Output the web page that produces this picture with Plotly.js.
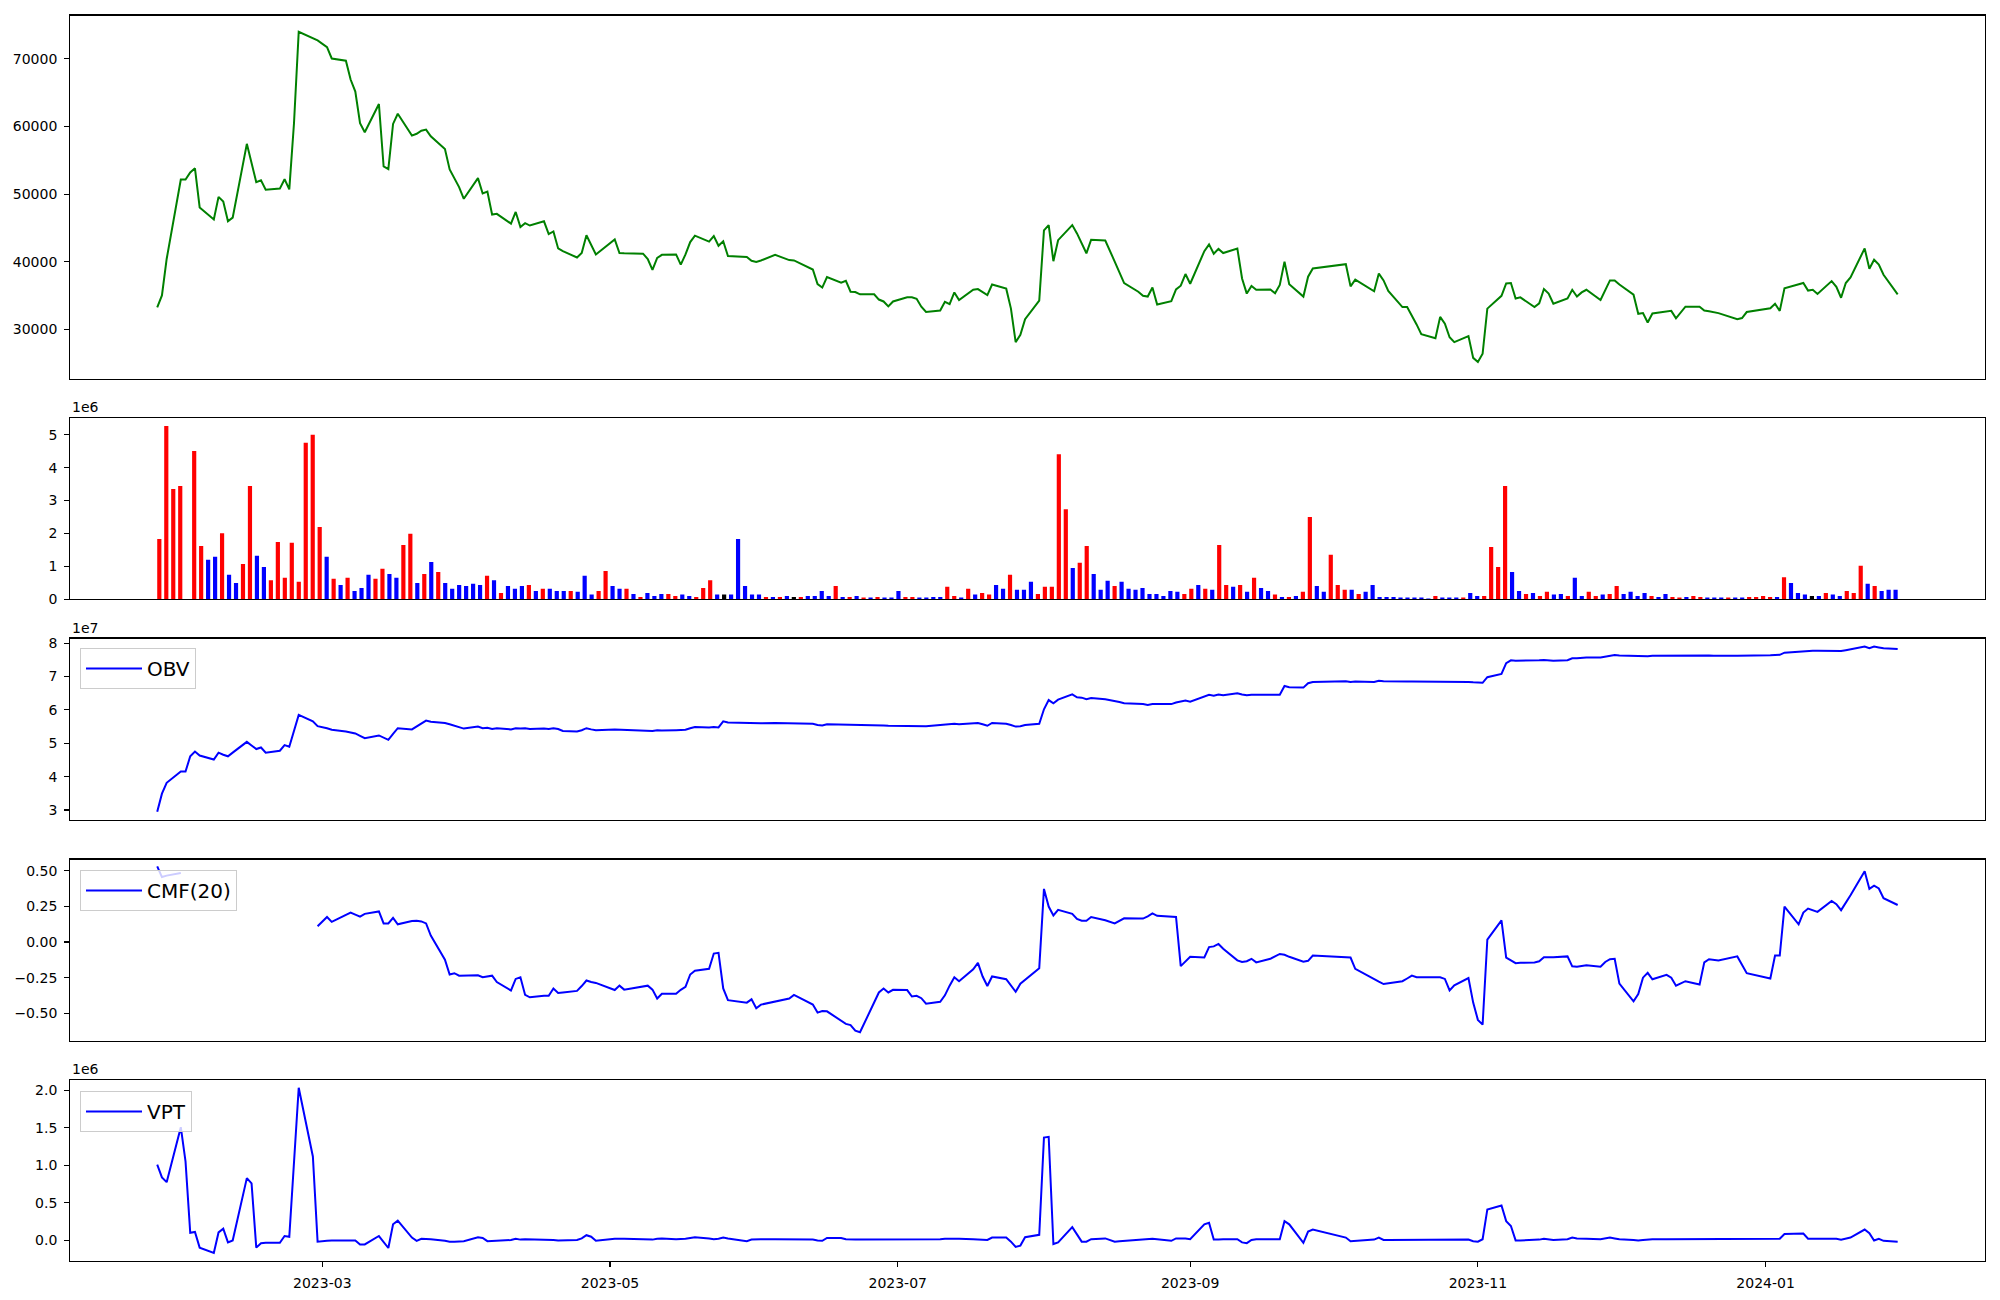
<!DOCTYPE html>
<html><head><meta charset="utf-8">
<script src="https://cdn.plot.ly/plotly-3.0.1.min.js"></script>
<style>html,body{margin:0;padding:0;background:#fff}#chart{width:2000px;height:1300px}</style>
</head><body><div id="chart"></div>
<script>
// ---------- data ----------
const firstSession = '2023-01-25';
const lastSession = '2024-01-29';
const krxHolidays = ['2023-03-01','2023-05-01','2023-05-05','2023-05-29','2023-06-06','2023-08-15',
  '2023-09-28','2023-09-29','2023-10-02','2023-10-03','2023-10-09','2023-12-25','2023-12-29','2024-01-01'];

const closePrice = [
33260,35040,40420,52140,52140,53200,53800,48030,46250,49590,
48920,45980,46530,57420,54580,51750,52030,50640,50810,52200,
50700,60500,73960,72960,72690,71690,70020,69690,66910,65130,
60470,59140,63300,54080,53690,60360,61860,58640,58910,59360,
59530,58530,56640,53640,52250,51030,49310,52360,50090,50360,
46980,47090,45640,47360,45140,45700,45360,45980,44090,44480,
41980,41590,40640,41310,43920,42530,41090,43310,41310,41260,
41200,40420,38810,40590,41030,41090,39590,41090,42920,43870,
42980,43810,42370,43030,40870,40700,40150,39980,40200,41030,
40480,40260,40200,39200,38870,36700,36200,37760,36920,37200,
35590,35540,35200,35200,34430,34150,33430,34150,34760,34760,
34540,33370,32590,32820,34090,33760,35480,34370,35870,35980,
35480,35090,36650,36040,33090,28150,29210,31540,34260,44640,
45420,40090,43200,45420,44200,42810,41260,43260,43150,40040,
38370,36870,35590,34980,34870,36200,33700,34200,35930,36480,
38200,36760,41580,42580,41190,41910,41300,41970,37540,35310,
36430,35870,35930,35370,36590,40030,36700,34870,37810,39030,
39650,36370,37370,35650,38260,37260,35700,33320,33320,32090,
30760,29320,28710,31870,30870,28870,28150,29040,25820,25210,
26430,33090,34980,36810,36870,34590,34760,33320,33870,35980,
35310,33820,34590,35870,34870,35480,35870,34370,35810,37260,
37260,36650,35150,32320,32430,31040,32370,32590,32760,31650,
32540,33370,33370,32820,32700,32590,32430,31540,31700,32590,
33150,33820,32760,36090,36650,36870,35760,35870,35260,37150,
36310,34700,36870,37700,41980,38980,40310,39590,38090,35200];

const volumeMillions = [
1.83,5.27,3.35,3.44,0,4.51,1.62,1.20,1.29,2.01,
0.74,0.49,1.07,3.44,1.32,0.98,0.58,1.74,0.65,1.72,
0.53,4.76,5.00,2.20,1.29,0.62,0.43,0.65,0.25,0.34,
0.74,0.62,0.93,0.77,0.65,1.65,1.99,0.49,0.77,1.13,
0.83,0.49,0.32,0.43,0.40,0.47,0.43,0.71,0.58,0.19,
0.40,0.32,0.40,0.43,0.25,0.32,0.32,0.25,0.25,0.25,
0.23,0.71,0.14,0.25,0.86,0.40,0.32,0.32,0.16,0.07,
0.19,0.10,0.16,0.16,0.10,0.14,0.10,0.07,0.34,0.58,
0.14,0.14,0.14,1.83,0.40,0.14,0.14,0.07,0.07,0.07,
0.10,0.07,0.07,0.10,0.10,0.25,0.10,0.40,0.07,0.07,
0.10,0.05,0.05,0.07,0.05,0.05,0.25,0.07,0.07,0.05,
0.05,0.07,0.07,0.38,0.10,0.05,0.32,0.14,0.19,0.14,
0.43,0.32,0.74,0.29,0.29,0.53,0.16,0.38,0.38,4.41,
2.74,0.95,1.11,1.62,0.77,0.29,0.56,0.40,0.53,0.32,
0.29,0.34,0.16,0.16,0.10,0.25,0.23,0.16,0.32,0.43,
0.32,0.29,1.65,0.43,0.38,0.43,0.23,0.65,0.34,0.25,
0.14,0.07,0.07,0.10,0.23,2.50,0.40,0.23,1.35,0.43,
0.29,0.29,0.16,0.23,0.43,0.07,0.07,0.07,0.05,0.05,
0.05,0.05,0.02,0.10,0.05,0.05,0.05,0.05,0.19,0.10,
0.10,1.59,0.98,3.44,0.83,0.25,0.16,0.19,0.10,0.23,
0.14,0.16,0.10,0.65,0.10,0.23,0.10,0.14,0.16,0.40,
0.16,0.23,0.10,0.19,0.10,0.07,0.16,0.07,0.05,0.07,
0.10,0.07,0.05,0.05,0.05,0.05,0.05,0.05,0.07,0.07,
0.10,0.07,0.07,0.67,0.49,0.19,0.14,0.10,0.10,0.19,
0.14,0.10,0.25,0.19,1.02,0.47,0.40,0.25,0.29,0.29];

// u = close above open, d = close below open, n = unchanged
const candleDirection = (
'uuuunuuddu'+'dduudduuuu'+'uuuudududd'+'duudduudud'+'uddddddudu'+
'dddududddu'+'ddduuddudu'+'ddduudduuu'+'dndddddudu'+'dnuddddudu'+
'dududdduud'+'ddduududuu'+'dduddduuuu'+'uduudddudd'+'ddddddduud'+
'uduudududd'+'ududuudduu'+'ududdddddd'+'dddudddudd'+'uuuudduduu'+
'ddudduuduu'+'ddddudduud'+'uudddudduu'+'uududddndu'+'dduuududdd').split('');

const obvTenMillions = [
2.947,3.489,3.814,4.151,4.151,4.609,4.753,4.633,4.512,4.717,
4.657,4.609,4.720,5.042,4.934,4.826,4.874,4.717,4.777,4.946,
4.898,5.380,5.849,5.657,5.512,5.452,5.404,5.355,5.331,5.295,
5.223,5.151,5.235,5.163,5.103,5.283,5.452,5.416,5.500,5.596,
5.681,5.645,5.608,5.572,5.524,5.476,5.440,5.500,5.452,5.464,
5.428,5.452,5.416,5.452,5.440,5.452,5.428,5.440,5.428,5.452,
5.428,5.368,5.355,5.392,5.452,5.416,5.392,5.416,5.410,5.404,
5.392,5.386,5.368,5.392,5.380,5.392,5.392,5.404,5.452,5.488,
5.476,5.488,5.476,5.657,5.620,5.596,5.596,5.596,5.600,5.608,
5.600,5.596,5.596,5.584,5.584,5.548,5.536,5.572,5.566,5.566,
5.566,5.560,5.560,5.560,5.548,5.536,5.524,5.524,5.524,5.524,
5.520,5.512,5.512,5.548,5.560,5.560,5.584,5.572,5.596,5.608,
5.572,5.524,5.608,5.584,5.548,5.500,5.512,5.548,5.584,6.018,
6.295,6.199,6.307,6.464,6.379,6.367,6.319,6.355,6.319,6.271,
6.235,6.199,6.187,6.174,6.150,6.174,6.174,6.174,6.223,6.259,
6.283,6.247,6.415,6.452,6.428,6.464,6.440,6.500,6.464,6.440,
6.452,6.452,6.452,6.452,6.452,6.716,6.680,6.668,6.801,6.837,
6.861,6.837,6.849,6.837,6.873,6.861,6.855,6.849,6.849,6.849,
6.849,6.849,6.849,6.849,6.849,6.840,6.837,6.837,6.825,6.813,
6.813,6.981,7.078,7.403,7.487,7.475,7.475,7.475,7.487,7.499,
7.487,7.475,7.487,7.548,7.548,7.560,7.572,7.572,7.596,7.632,
7.644,7.632,7.620,7.608,7.608,7.608,7.620,7.626,7.626,7.632,
7.620,7.632,7.644,7.640,7.632,7.626,7.620,7.620,7.620,7.626,
7.638,7.644,7.650,7.716,7.752,7.764,7.764,7.770,7.776,7.776,
7.770,7.764,7.788,7.812,7.897,7.849,7.897,7.873,7.849,7.824];

const cmf20 = [
0.530,0.455,0.465,0.484,null,null,null,null,null,null,
null,null,null,null,null,null,null,null,null,null,
null,null,null,null,0.110,0.175,0.141,0.192,0.206,0.192,
0.178,0.197,0.214,0.130,0.130,0.169,0.124,0.147,0.149,0.144,
0.130,0.045,-0.124,-0.228,-0.219,-0.236,-0.236,-0.233,-0.247,-0.242,
-0.236,-0.281,-0.340,-0.259,-0.247,-0.371,-0.388,-0.377,-0.377,-0.326,
-0.357,-0.354,-0.343,-0.309,-0.270,-0.281,-0.287,-0.337,-0.306,-0.334,
-0.315,-0.306,-0.334,-0.396,-0.363,-0.363,-0.335,-0.315,-0.228,-0.202,
-0.188,-0.081,-0.076,-0.326,-0.408,-0.425,-0.402,-0.464,-0.439,-0.416,
-0.405,-0.396,-0.371,-0.419,-0.439,-0.495,-0.484,-0.486,-0.551,-0.574,
-0.582,-0.622,-0.633,-0.416,-0.354,-0.326,-0.354,-0.335,-0.337,-0.382,
-0.377,-0.394,-0.433,-0.419,-0.374,-0.306,-0.247,-0.275,-0.191,-0.146,
-0.242,-0.309,-0.242,-0.261,-0.306,-0.349,-0.292,-0.264,-0.185,0.372,
0.248,0.186,0.225,0.197,0.161,0.149,0.149,0.175,0.152,0.130,
0.149,0.166,0.164,0.164,0.180,0.200,0.183,0.180,0.175,-0.169,
-0.138,-0.104,-0.109,-0.036,-0.031,-0.014,-0.048,-0.129,-0.140,-0.135,
-0.118,-0.143,-0.118,-0.101,-0.084,-0.090,-0.104,-0.138,-0.132,-0.095,
-0.107,-0.109,-0.188,-0.264,-0.278,-0.295,-0.289,-0.275,-0.256,-0.236,
-0.247,-0.247,-0.247,-0.247,-0.259,-0.340,-0.304,-0.253,-0.425,-0.546,
-0.579,0.017,0.152,-0.109,-0.129,-0.149,-0.146,-0.143,-0.135,-0.107,
-0.107,-0.107,-0.101,-0.171,-0.174,-0.166,-0.163,-0.174,-0.140,-0.121,
-0.118,-0.292,-0.416,-0.365,-0.250,-0.216,-0.261,-0.230,-0.250,-0.306,
-0.292,-0.275,-0.298,-0.143,-0.121,-0.124,-0.129,-0.101,-0.163,-0.219,
-0.256,-0.095,-0.095,0.248,0.124,0.206,0.234,0.223,0.211,0.287,
0.265,0.223,0.273,0.327,0.496,0.372,0.394,0.375,0.307,0.259];

const vptMillions = [
1.010,0.839,0.775,1.509,1.053,0.100,0.111,-0.098,-0.168,0.105,
0.154,-0.028,-0.002,0.829,0.759,-0.098,-0.039,-0.034,-0.034,0.057,
0.047,1.050,2.034,1.118,-0.018,-0.007,-0.002,-0.002,-0.002,-0.002,
-0.055,-0.055,0.057,-0.023,-0.103,0.213,0.261,0.036,-0.007,0.020,
0.020,0.014,-0.007,-0.018,-0.018,-0.012,-0.012,0.041,0.031,-0.012,
-0.007,-0.002,0.004,0.020,0.009,0.014,0.014,0.014,0.009,0.004,
-0.002,-0.002,0.004,0.025,0.068,0.047,-0.007,0.020,0.025,0.020,
0.014,0.009,0.009,0.020,0.025,0.014,0.014,0.020,0.031,0.041,
0.025,0.014,0.020,0.036,0.025,-0.012,0.009,0.014,0.014,0.014,
0.014,0.014,0.014,0.014,0.009,-0.002,-0.007,0.031,0.031,0.014,
0.009,0.009,0.009,0.009,0.009,0.009,0.009,0.009,0.009,0.009,
0.009,0.009,0.009,0.014,0.020,0.020,0.025,0.020,0.014,0.014,
0.009,0.004,0.036,0.036,-0.018,-0.088,-0.071,0.041,0.073,1.370,
1.380,-0.050,-0.028,0.175,0.079,-0.018,-0.018,0.014,0.025,-0.018,
-0.012,-0.007,-0.002,0.004,0.009,0.020,0.014,-0.007,0.025,0.025,
0.025,0.014,0.213,0.234,0.009,0.009,0.014,0.014,-0.028,-0.039,
0.004,0.014,0.014,0.014,0.014,0.255,0.213,-0.034,0.116,0.143,
0.036,-0.012,-0.007,0.009,0.036,0.004,0.004,0.004,0.004,0.004,
0.004,0.004,0.004,0.014,0.009,0.004,0.004,0.009,-0.012,-0.018,
0.014,0.411,0.464,0.255,0.191,-0.002,-0.002,0.004,0.009,0.020,
0.014,0.004,0.014,0.036,0.025,0.020,0.020,0.014,0.025,0.036,
0.025,0.014,0.004,-0.002,0.004,0.009,0.014,0.014,0.014,0.014,
0.020,0.020,0.020,0.020,0.020,0.020,0.020,0.020,0.020,0.020,
0.020,0.020,0.020,0.084,0.089,0.089,0.020,0.020,0.025,0.025,
0.020,0.009,0.025,0.036,0.143,0.095,-0.002,0.020,-0.007,-0.018];

const seriesLabels = ['OBV', 'CMF(20)', 'VPT'];
const offsetLabels = ['1e6', '1e7', '1e6'];

// ---------- build ----------
function tradingDays(start, end, holidays) {
  const out = [], skip = new Set(holidays);
  let t = Date.parse(start + 'T00:00:00Z');
  const stop = Date.parse(end + 'T00:00:00Z');
  while (t <= stop) {
    const d = new Date(t), wd = d.getUTCDay(), iso = d.toISOString().slice(0, 10);
    if (wd !== 0 && wd !== 6 && !skip.has(iso)) out.push(iso);
    t += 86400000;
  }
  return out;
}
const sessions = tradingDays(firstSession, lastSession, krxHolidays);
const sessionIndex = volumeMillions.map((_, i) => i);

function paddedDateRange(dates, frac) {
  const a = Date.parse(dates[0] + 'T00:00:00Z'), b = Date.parse(dates[dates.length - 1] + 'T00:00:00Z');
  const p = (b - a) * frac;
  const f = ms => new Date(ms).toISOString().replace('T', ' ').slice(0, 19);
  return [f(a - p), f(b + p)];
}
const dateRange = paddedDateRange(sessions, 0.05);
const barW = 0.6, nBars = volumeMillions.length;
const barSpan = (nBars - 1) + barW;
const barRange = [-barW / 2 - 0.05 * barSpan, nBars - 1 + barW / 2 + 0.05 * barSpan];

const W = 2000, H = 1300;
const xDom = [70.2 / W, 1984.7 / W];
const yd = (top, bot) => [1 - bot / H, 1 - top / H];
const dom = [yd(15.5, 379), yd(418.4, 599.2), yd(638.5, 820), yd(859.5, 1041), yd(1079.6, 1261.2)];

const dirColor = {u: '#ff0000', d: '#0000ff', n: '#000000'};
const font = {family: 'DejaVu Sans, sans-serif', size: 14, color: '#000000'};

const traces = [
  {type: 'scatter', mode: 'lines', x: sessions, y: closePrice, xaxis: 'x', yaxis: 'y',
   line: {color: '#008000', width: 2}, showlegend: false},
  {type: 'bar', x: sessionIndex, y: volumeMillions, xaxis: 'x2', yaxis: 'y2', width: barW,
   marker: {color: candleDirection.map(c => dirColor[c]), line: {width: 0}}, showlegend: false},
  {type: 'scatter', mode: 'lines', x: sessions, y: obvTenMillions, xaxis: 'x3', yaxis: 'y3',
   name: seriesLabels[0], line: {color: '#0000ff', width: 2}, legend: 'legend'},
  {type: 'scatter', mode: 'lines', x: sessions, y: cmf20, xaxis: 'x4', yaxis: 'y4',
   name: seriesLabels[1], line: {color: '#0000ff', width: 2}, legend: 'legend2'},
  {type: 'scatter', mode: 'lines', x: sessions, y: vptMillions, xaxis: 'x5', yaxis: 'y5',
   name: seriesLabels[2], line: {color: '#0000ff', width: 2}, legend: 'legend3'}
];

const axBase = {showline: true, mirror: true, linecolor: '#000000', linewidth: 1.1, showgrid: false,
  zeroline: false, ticks: 'outside', ticklen: 5, tickwidth: 1.1, tickcolor: '#000000',
  tickfont: font, fixedrange: true, ticklabelstandoff: 4};
const xHidden = (anchor, type, range) => Object.assign({}, axBase, {type, range, domain: xDom, anchor,
  ticks: '', showticklabels: false});

const legendBase = (yTop) => ({x: 80 / W, y: 1 - yTop / H, xanchor: 'left', yanchor: 'top',
  bgcolor: 'rgba(255,255,255,0.8)', bordercolor: '#cccccc', borderwidth: 1,
  font: {family: 'DejaVu Sans, sans-serif', size: 20, color: '#000000'}, itemwidth: 56});

const offAnn = (text, d) => ({text, xref: 'paper', yref: 'paper', x: xDom[0], y: d[1],
  xanchor: 'left', yanchor: 'bottom', yshift: 1, showarrow: false, font});

const layout = {
  width: W, height: H, margin: {l: 0, r: 0, t: 0, b: 0},
  paper_bgcolor: '#ffffff', plot_bgcolor: '#ffffff', font, hovermode: false,
  xaxis: xHidden('y', 'date', dateRange),
  xaxis2: xHidden('y2', 'linear', barRange),
  xaxis3: xHidden('y3', 'date', dateRange),
  xaxis4: xHidden('y4', 'date', dateRange),
  xaxis5: Object.assign({}, axBase, {type: 'date', range: dateRange, domain: xDom, anchor: 'y5',
    tickformat: '%Y-%m', dtick: 'M2', tick0: '2023-01-01'}),
  yaxis: Object.assign({}, axBase, {domain: dom[0], anchor: 'x', range: [22700, 76370], dtick: 10000, tick0: 0, tickformat: 'd'}),
  yaxis2: Object.assign({}, axBase, {domain: dom[1], anchor: 'x2', range: [0, 5.5], dtick: 1, tick0: 0, tickformat: 'd'}),
  yaxis3: Object.assign({}, axBase, {domain: dom[2], anchor: 'x3', range: [2.70, 8.14], dtick: 1, tick0: 0, tickformat: 'd'}),
  yaxis4: Object.assign({}, axBase, {domain: dom[3], anchor: 'x4', range: [-0.694, 0.578], dtick: 0.25, tick0: 0, tickformat: '.2f'}),
  yaxis5: Object.assign({}, axBase, {domain: dom[4], anchor: 'x5', range: [-0.279, 2.143], dtick: 0.5, tick0: 0, tickformat: '.1f'}),
  legend: legendBase(648),
  legend2: legendBase(870),
  legend3: legendBase(1091),
  annotations: [offAnn(offsetLabels[0], dom[1]), offAnn(offsetLabels[1], dom[2]), offAnn(offsetLabels[2], dom[4])]
};

Plotly.newPlot('chart', traces, layout, {displayModeBar: false, staticPlot: true});
</script></body></html>
